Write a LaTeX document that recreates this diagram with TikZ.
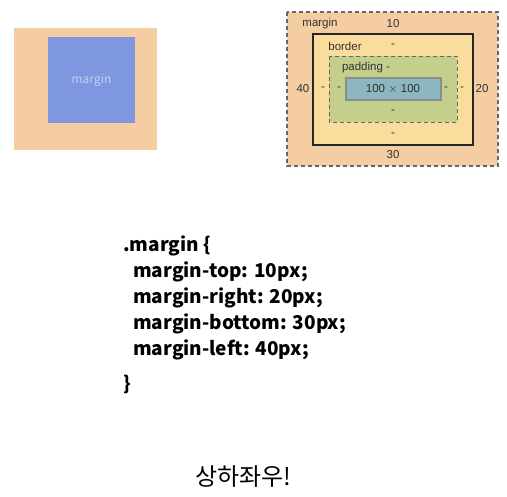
\documentclass[tikz,border=0pt]{standalone}
\usepackage{fontspec}
\setmainfont{Liberation Sans}
\newfontfamily\krfont{Noto Sans CJK KR}
\usetikzlibrary{positioning}
\definecolor{marginc}{HTML}{F4CDA2}
\definecolor{leftblue}{HTML}{7F96E0}
\definecolor{borderc}{HTML}{FADD9D}
\definecolor{paddingc}{HTML}{C3CF8B}
\definecolor{contentc}{HTML}{8CB6C0}
\definecolor{txtc}{HTML}{333333}
\tikzset{
  boxlbl/.style={font=\fontsize{11.5}{13}\selectfont, text=txtc, inner sep=0pt},
  codeline/.style={font=\krfont\bfseries\fontsize{19}{22}\selectfont, anchor=base west, inner sep=0pt},
  dashedge/.style={draw=black!60, dash pattern=on 4pt off 3pt}
}
\begin{document}
\begin{tikzpicture}[x=1pt, y=-1pt]
\useasboundingbox[fill=white] (0,0) rectangle (507,497);
% left sample
\fill[marginc] (14,28) rectangle (157,150);
\fill[leftblue] (48,37) rectangle (135,123);
\node[font=\krfont\fontsize{12}{14}\selectfont, text=leftblue!45!white] (lmargin) at (91.5,80) {margin};
% box model
\fill[marginc] (287,12) rectangle (498,166);
\draw[dashedge, line width=1.4pt] (287,12) rectangle (498,166);
\filldraw[fill=borderc, draw=black!85, line width=1.4pt] (313,34) rectangle (473,145);
\filldraw[fill=paddingc, dashedge, line width=0.9pt] (329,56) rectangle (457,122);
\filldraw[fill=contentc, draw=black!45, line width=1.4pt] (346,78) rectangle (441,100);
\node[boxlbl] (mlbl) at (320,24) {margin};
\node[boxlbl] (mtop) at (393,24) {10};
\node[boxlbl] (blbl) at (345,46) {border};
\node[boxlbl] (btop) at (393,46) {-};
\node[boxlbl] (plbl) at (366,68) {padding -};
\node[boxlbl] (clbl) at (393,89) {100 $\times$ 100};
\node[boxlbl] (mleft) at (303,89) {40};
\node[boxlbl] (bleft) at (323,89) {-};
\node[boxlbl] (pleft) at (339,89) {-};
\node[boxlbl] (pright) at (446,89) {-};
\node[boxlbl] (bright) at (462,89) {-};
\node[boxlbl] (mright) at (482,89) {20};
\node[boxlbl] (pbot) at (393,112) {-};
\node[boxlbl] (bbot) at (393,135) {-};
\node[boxlbl] (mbot) at (393,155) {30};
% css code
\node[codeline] (c0) at (123,252) {.margin \{};
\node[codeline] (c1) at (133,278) {margin-top: 10px;};
\node[codeline] (c2) at (133,304) {margin-right: 20px;};
\node[codeline] (c3) at (133,330) {margin-bottom: 30px;};
\node[codeline] (c4) at (133,356) {margin-left: 40px;};
\node[codeline] (c5) at (123,391) {\}};
\node[font=\krfont\fontsize{24}{27}\selectfont, anchor=base west, inner sep=0pt] (ko) at (195,486) {상하좌우!};
\end{tikzpicture}
\end{document}
